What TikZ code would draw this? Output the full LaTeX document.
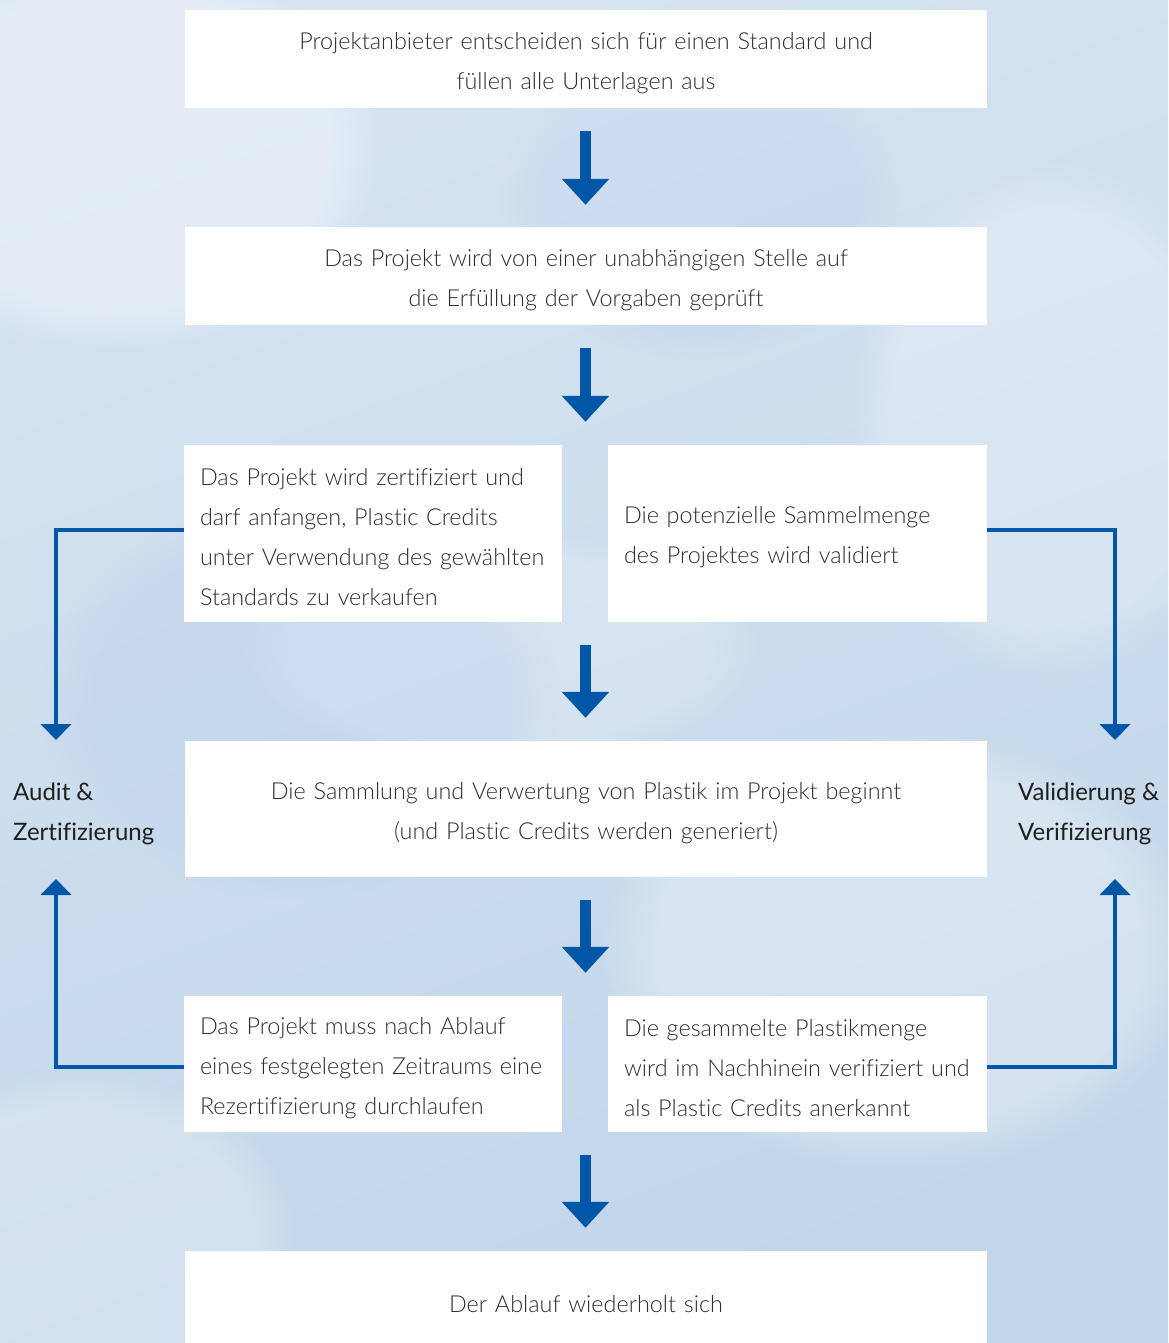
\documentclass[tikz,border=0pt]{standalone}
\usepackage{fontspec}
\setmainfont{Lato}[UprightFont=* Light,Ligatures=NoCommon]
\newfontfamily\labelfont{Lato}[Ligatures=NoCommon]
\usetikzlibrary{arrows.meta,fadings}
\definecolor{arrowblue}{RGB}{0,87,168}
\definecolor{txtgray}{RGB}{45,45,45}
\definecolor{bgA}{RGB}{214,228,241}
\definecolor{bgB}{RGB}{193,214,234}
\begin{document}
\begin{tikzpicture}[x=1pt,y=-1pt,
  box/.style={fill=white,draw=none,inner sep=0pt},
  txt/.style={inner sep=0pt,text=txtgray,yshift=-4pt,
    font=\fontsize{23.4}{40}\selectfont},
  widetxt/.style={txt,text width=780pt,align=center},
  halftxt/.style={txt,text width=360pt,align=left},
  downarrow/.style={draw=arrowblue,line width=11.5pt,
    -{Triangle[width=46pt,length=26pt]}},
  sidearrow/.style={draw=arrowblue,line width=4pt,
    -{Triangle[width=30pt,length=16pt]}},
  sidelabel/.style={inner sep=0pt,align=left,text=black!88,
    font=\labelfont\fontsize{24}{40}\selectfont}]
% background
\useasboundingbox (0,0) rectangle (1168,1343);
\shade[top color=bgA,bottom color=bgB,shading angle=20] (0,0) rectangle (1168,1343);
\begin{scope}
\clip (0,0) rectangle (1168,1343);
\fill[white,opacity=0.35,path fading=circle with fuzzy edge 20 percent] (120,150) ellipse (260pt and 200pt);
\fill[white,opacity=0.25,path fading=circle with fuzzy edge 20 percent] (1050,420) ellipse (200pt and 260pt);
\fill[white,opacity=0.3,path fading=circle with fuzzy edge 20 percent] (900,950) ellipse (300pt and 220pt);
\fill[white,opacity=0.25,path fading=circle with fuzzy edge 20 percent] (80,1250) ellipse (220pt and 180pt);
\fill[white,opacity=0.2,path fading=circle with fuzzy edge 20 percent] (500,650) ellipse (260pt and 120pt);
\fill[bgB!85!blue,opacity=0.15,path fading=circle with fuzzy edge 20 percent] (300,700) ellipse (260pt and 200pt);
\fill[bgB!85!blue,opacity=0.12,path fading=circle with fuzzy edge 20 percent] (700,200) ellipse (200pt and 160pt);
\end{scope}
% boxes
\node[box,minimum width=802pt,minimum height=98pt] (b1) at (586,59) {};
\node[box,minimum width=802pt,minimum height=98pt] (b2) at (586,276) {};
\node[box,minimum width=378pt,minimum height=177pt] (b3l) at (373,533.5) {};
\node[box,minimum width=379pt,minimum height=177pt] (b3r) at (797.5,533.5) {};
\node[box,minimum width=802pt,minimum height=136pt] (b4) at (586,809) {};
\node[box,minimum width=378pt,minimum height=136pt] (b5l) at (373,1064) {};
\node[box,minimum width=379pt,minimum height=136pt] (b5r) at (797.5,1064) {};
\node[box,minimum width=802pt,minimum height=92pt] (b6) at (586,1297) {};
% box texts
\node[widetxt] (t1) at (b1.center)
  {Projektanbieter entscheiden sich für einen Standard und\\füllen alle Unterlagen aus};
\node[widetxt] (t2) at (b2.center)
  {Das Projekt wird von einer unabhängigen Stelle auf\\die Erfüllung der Vorgaben geprüft};
\node[halftxt,anchor=west] (t3l) at ([xshift=16pt]b3l.west)
  {Das Projekt wird zertifiziert und\\darf anfangen, Plastic Credits\\unter Verwendung des gewählten\\Standards zu verkaufen};
\node[halftxt,anchor=west] (t3r) at ([xshift=16pt]b3r.west)
  {Die potenzielle Sammelmenge\\des Projektes wird validiert};
\node[widetxt] (t4) at (b4.center)
  {Die Sammlung und Verwertung von Plastik im Projekt beginnt\\(und Plastic Credits werden generiert)};
\node[halftxt,anchor=west] (t5l) at ([xshift=16pt]b5l.west)
  {Das Projekt muss nach Ablauf\\eines festgelegten Zeitraums eine\\Rezertifizierung durchlaufen};
\node[halftxt,anchor=west] (t5r) at ([xshift=16pt]b5r.west)
  {Die gesammelte Plastikmenge\\wird im Nachhinein verifiziert und\\als Plastic Credits anerkannt};
\node[widetxt] (t6) at ([yshift=-3pt]b6.center) {Der Ablauf wiederholt sich};
% side labels
\node[sidelabel,anchor=west] (la) at (13,814) {Audit \&\\Zertifizierung};
\node[sidelabel,anchor=west] (lv) at (1018,814) {Validierung \&\\Verifizierung};
% central arrows
\draw[downarrow,shorten <=23pt,shorten >=22pt] ([xshift=-0.5pt]b1.south) -- ([xshift=-0.5pt]b2.north);
\draw[downarrow,shorten <=23pt,shorten >=23pt] ([xshift=-0.5pt]b2.south) -- ([xshift=-0.5pt]b2.south |- b3l.north);
\draw[downarrow,shorten <=23pt,shorten >=23pt] ([xshift=-0.5pt]b4.north |- b3l.south) -- ([xshift=-0.5pt]b4.north);
\draw[downarrow,shorten <=23pt,shorten >=23pt] ([xshift=-0.5pt]b4.south) -- ([xshift=-0.5pt]b4.south |- b5l.north);
\draw[downarrow,shorten <=23pt,shorten >=23pt] ([xshift=-0.5pt]b6.north |- b5l.south) -- ([xshift=-0.5pt]b6.north);
% side connectors
\coordinate (tl) at (56,740);
\coordinate (bl) at (56,879);
\coordinate (tr) at (1115,740);
\coordinate (br) at (1115,879);
\draw[sidearrow] ([yshift=3.5pt]b3l.west) -| (tl);
\draw[sidearrow] ([yshift=-3pt]b5l.west) -| (bl);
\draw[sidearrow] ([yshift=3.5pt]b3r.east) -| (tr);
\draw[sidearrow] ([yshift=-3pt]b5r.east) -| (br);
\end{tikzpicture}
\end{document}
